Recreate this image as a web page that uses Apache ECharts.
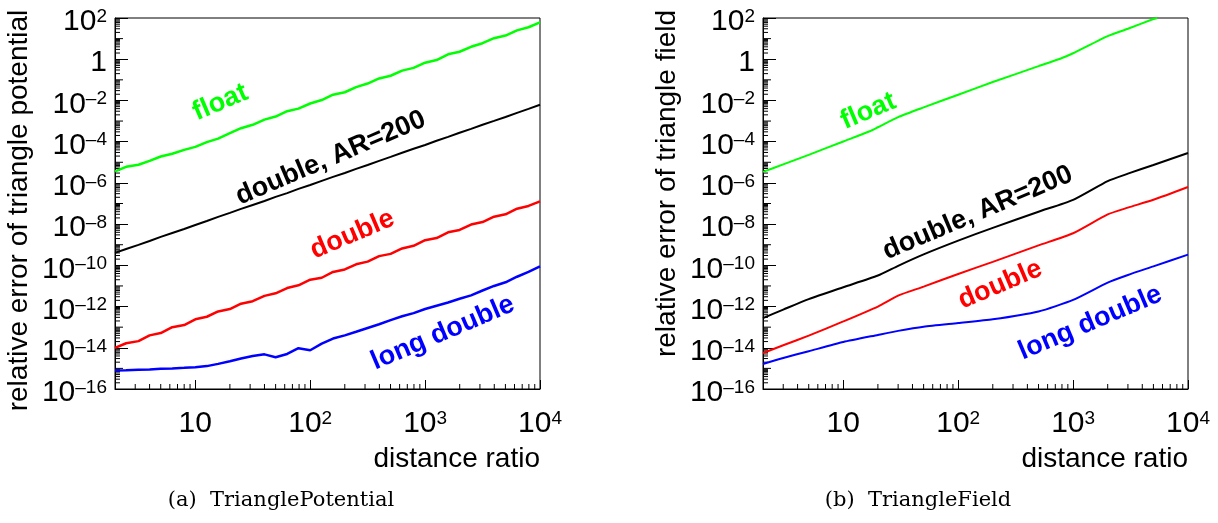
<!DOCTYPE html>
<html><head><meta charset="utf-8">
<script src="https://cdn.jsdelivr.net/npm/echarts@6/dist/echarts.min.js"></script>
<style>html,body{margin:0;padding:0;background:#fff}#c{width:1218px;height:523px}</style>
</head><body><div id="c"></div>
<script>
// ---------- data (a) TrianglePotential ----------
const xPot = [2, 2.5, 3.2, 4, 5, 6.3, 8, 10, 12.6, 15.8, 20, 25, 31.6, 40, 50, 63, 79, 100, 126, 158, 200, 251, 316, 398, 501, 631, 794, 1000, 1259, 1585, 1995, 2512, 3162, 3981, 5012, 6310, 7943, 10000];
const potFloat = [3.6e-6, 6.0e-6, 7.6e-6, 1.17e-5, 1.9e-5, 2.6e-5, 4.0e-5, 5.6e-5, 9.5e-5, 1.41e-4, 2.6e-4, 4.5e-4, 6.6e-4, 1.17e-3, 1.66e-3, 3.0e-3, 4.0e-3, 7.1e-3, 1.05e-2, 1.9e-2, 2.5e-2, 4.4e-2, 6.6e-2, 0.117, 0.158, 0.28, 0.38, 0.68, 0.91, 1.74, 2.3, 4.0, 6.0, 10.5, 14.1, 25, 35.5, 62];
const potDoubleAR = [4.0e-10, 6.2e-10, 9.8e-10, 1.51e-9, 2.4e-9, 3.7e-9, 5.8e-9, 9.1e-9, 1.41e-8, 2.24e-8, 3.5e-8, 5.5e-8, 8.5e-8, 1.32e-7, 2.1e-7, 3.2e-7, 5.1e-7, 7.9e-7, 1.26e-6, 1.95e-6, 3.0e-6, 4.8e-6, 7.4e-6, 1.17e-5, 1.82e-5, 2.9e-5, 4.5e-5, 6.9e-5, 1.1e-4, 1.7e-4, 2.7e-4, 4.2e-4, 6.6e-4, 1.02e-3, 1.58e-3, 2.5e-3, 3.9e-3, 6.2e-3];
const potDouble = [9.8e-15, 1.66e-14, 2.1e-14, 4.0e-14, 5.2e-14, 1.0e-13, 1.26e-13, 2.4e-13, 3.2e-13, 5.8e-13, 7.6e-13, 1.38e-12, 1.82e-12, 3.3e-12, 4.4e-12, 7.9e-12, 1.07e-11, 2.0e-11, 2.5e-11, 4.8e-11, 6.3e-11, 1.12e-10, 1.51e-10, 2.8e-10, 3.6e-10, 6.6e-10, 8.9e-10, 1.66e-9, 2.1e-9, 4.0e-9, 5.2e-9, 9.5e-9, 1.26e-8, 2.3e-8, 3.0e-8, 5.6e-8, 7.6e-8, 1.26e-7];
const potLongDouble = [7.8e-16, 8.1e-16, 8.5e-16, 8.9e-16, 9.5e-16, 1.0e-15, 1.07e-15, 1.15e-15, 1.29e-15, 1.66e-15, 2.2e-15, 3.0e-15, 4.0e-15, 4.8e-15, 3.5e-15, 5.0e-15, 9.5e-15, 7.6e-15, 1.58e-14, 2.8e-14, 4.0e-14, 6.0e-14, 9.1e-14, 1.38e-13, 2.2e-13, 3.4e-13, 4.8e-13, 7.6e-13, 1.1e-12, 1.58e-12, 2.4e-12, 3.5e-12, 6.0e-12, 1.0e-11, 1.51e-11, 2.8e-11, 4.8e-11, 8.9e-11];

// ---------- data (b) TriangleField ----------
const xField = [2, 3, 5, 10, 20, 30, 50, 100, 200, 500, 1000, 2000, 3000, 5000, 10000];
const xFieldFloat = [2, 3, 5, 10, 17, 20, 30, 50, 100, 200, 500, 800, 1000, 2000, 3000, 5000, 5400];
const fieldFloat = [3.4e-6, 7.9e-6, 2.3e-5, 1.02e-4, 3.2e-4, 5.0e-4, 1.55e-3, 4.6e-3, 1.9e-2, 7.8e-2, 0.46, 1.15, 1.95, 13.2, 30, 89, 100];
const fieldDoubleAR = [2.75e-13, 7.1e-13, 2.3e-12, 8.7e-12, 3.2e-11, 9.5e-11, 3.4e-10, 1.58e-9, 6.6e-9, 4.0e-8, 1.51e-7, 1.23e-6, 2.8e-6, 7.4e-6, 2.8e-5];
const fieldDouble = [5.6e-15, 1.32e-14, 3.9e-14, 1.9e-13, 1.0e-12, 3.4e-12, 9.3e-12, 3.8e-11, 1.48e-10, 9.3e-10, 3.6e-9, 2.95e-8, 6.3e-8, 1.51e-7, 6.3e-7];
const fieldLongDouble = [1.62e-15, 3.2e-15, 6.8e-15, 1.9e-14, 4.2e-14, 6.6e-14, 1.05e-13, 1.58e-13, 2.4e-13, 5.8e-13, 2.1e-12, 1.45e-11, 3.4e-11, 8.9e-11, 3.3e-10];

// ---------- labels ----------
const seriesNames = ['float', 'double, AR=200', 'double', 'long double'];
const annotPot = [[16.5, 8e-3], [151, 1.6e-5], [233, 3.1e-9], [1426, 5.2e-14]];
const annotField = [[16.5, 3.0e-3], [148, 3.5e-8], [232, 1.15e-11], [1413, 1.6e-13]];
const captions = ['(a)  TrianglePotential', '(b)  TriangleField'];
const yTitles = ['relative error of triangle potential', 'relative error of triangle field'];
const xTitle = 'distance ratio';
const xMin = 2, xMax = 10000, yMin = 1e-16, yMax = 1e2;

// ---------- styles ----------
const colors = ['#00ff00', '#000000', '#ff0000', '#0000ff'];
const FONT = "'Liberation Sans', Arial, Helvetica, sans-serif";
const rich = {
  b: {fontSize: 30, lineHeight: 30, fontFamily: FONT, color: '#000'},
  s: {fontSize: 19, lineHeight: 6, verticalAlign: 'top', fontFamily: FONT, color: '#000'}
};
function expLabel(v) {
  const e = Math.round(Math.log10(v));
  if (e === 0) return '{b|1}';
  if (e === 1) return '{b|10}';
  return '{b|10}{s|' + (e < 0 ? '\u2013' + (-e) : String(e)) + '}';
}

// minor tick values (log-axis style)
const tickData = [];
for (let e = 0; e <= 3; e++) for (let k = 2; k <= 9; k++) {
  const v = k * Math.pow(10, e);
  if (v > xMin && v < xMax) tickData.push([v, yMin, 0, 5]);
}
for (let e = -16; e <= 1; e++) {
  if (e % 2 !== 0) tickData.push([xMin, Number(Math.pow(10, e).toPrecision(3)), 1, 8]);
  for (let k = 2; k <= 9; k++) tickData.push([xMin, Number((k * Math.pow(10, e)).toPrecision(3)), 1, 5]);
}

const grids = [
  {left: 115, top: 18, width: 425, height: 371, show: true, borderColor: '#000', borderWidth: 1},
  {left: 763, top: 18, width: 425, height: 371, show: true, borderColor: '#000', borderWidth: 1}
];

function xAxis(i) {
  return {
    type: 'log', logBase: 10, min: xMin, max: xMax, gridIndex: i,
    axisLine: {show: true, lineStyle: {color: '#000', width: 1}},
    axisTick: {show: true, inside: true, length: 9, lineStyle: {color: '#000'}},
    splitLine: {show: false},
    axisLabel: {margin: 20, formatter: v => (v < 5 ? '' : expLabel(v)), rich: rich},
    name: xTitle, nameLocation: 'end', nameGap: 0,
    nameTextStyle: {fontSize: 28, fontFamily: FONT, color: '#000', align: 'right', verticalAlign: 'top', padding: [56, 0, 0, 0]}
  };
}
function yAxis(i, pad) {
  return {
    type: 'log', logBase: 10, min: yMin, max: yMax, interval: 2, gridIndex: i,
    axisLine: {show: true, lineStyle: {color: '#000', width: 1}},
    axisTick: {show: true, inside: true, length: 13, lineStyle: {color: '#000'}},
    splitLine: {show: false},
    axisLabel: {margin: 8, formatter: expLabel, rich: rich, padding: [8, 0, 0, 0]},
    name: yTitles[i], nameLocation: 'middle', nameRotate: 90, nameGap: 82,
    nameTextStyle: {fontSize: 28, fontFamily: FONT, color: '#000', padding: pad}
  };
}

function lineSeries(gi, xs, ys, k, annot, width, smooth) {
  return {
    type: 'line', xAxisIndex: gi, yAxisIndex: gi, name: seriesNames[k],
    data: xs.map((x, j) => [x, ys[j]]),
    showSymbol: false, symbol: 'none', smooth: smooth, clip: true,
    lineStyle: {color: colors[k], width: width}, itemStyle: {color: colors[k]},
    silent: true, z: 3,
    markPoint: {
      symbol: 'circle', symbolSize: 1, itemStyle: {color: 'rgba(0,0,0,0)'}, silent: true,
      label: {show: true, position: 'inside', formatter: seriesNames[k], rotate: 23,
        fontSize: 27, fontWeight: 'bold', fontFamily: FONT, color: colors[k]},
      data: [{coord: annot[k]}]
    }
  };
}

function tickSeries(gi) {
  return {
    type: 'custom', xAxisIndex: gi, yAxisIndex: gi, silent: true, z: 2,
    dimensions: ['x', 'y', 'd', 'l'], encode: {x: 0, y: 1},
    data: tickData,
    renderItem: (params, api) => {
      const p = api.coord([api.value(0), api.value(1)]);
      const d = api.value(2), L = api.value(3);
      const shape = d === 0 ? {x1: p[0], y1: p[1], x2: p[0], y2: p[1] - L}
                            : {x1: p[0], y1: p[1], x2: p[0] + L, y2: p[1]};
      return {type: 'line', shape: shape, style: {stroke: '#000', lineWidth: 1}};
    }
  };
}

const chart = echarts.init(document.getElementById('c'), null, {renderer: 'canvas'});
chart.setOption({
  backgroundColor: '#fff',
  animation: false,
  title: [
    {text: captions[0], left: 281, top: 501, textAlign: 'center', textVerticalAlign: 'middle', padding: 0,
     textStyle: {fontFamily: "'DejaVu Serif', serif", fontSize: 21, fontWeight: 'normal', color: '#000'}},
    {text: captions[1], left: 918, top: 501, textAlign: 'center', textVerticalAlign: 'middle', padding: 0,
     textStyle: {fontFamily: "'DejaVu Serif', serif", fontSize: 21, fontWeight: 'normal', color: '#000'}}
  ],
  grid: grids,
  xAxis: [xAxis(0), xAxis(1)],
  yAxis: [yAxis(0, [0, 14, 0, 0]), yAxis(1, [0, 0, 0, 40])],
  series: [
    tickSeries(0), tickSeries(1),
    lineSeries(0, xPot, potFloat, 0, annotPot, 2.5, false),
    lineSeries(0, xPot, potDoubleAR, 1, annotPot, 2, false),
    lineSeries(0, xPot, potDouble, 2, annotPot, 2.5, false),
    lineSeries(0, xPot, potLongDouble, 3, annotPot, 2.5, false),
    lineSeries(1, xFieldFloat, fieldFloat, 0, annotField, 2, 0.2),
    lineSeries(1, xField, fieldDoubleAR, 1, annotField, 2, 0.2),
    lineSeries(1, xField, fieldDouble, 2, annotField, 2, 0.2),
    lineSeries(1, xField, fieldLongDouble, 3, annotField, 2, 0.2)
  ]
});
</script>
</body></html>
